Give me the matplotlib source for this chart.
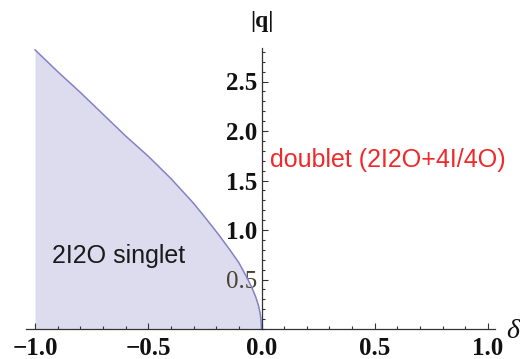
import matplotlib
matplotlib.use('Agg')
import matplotlib.pyplot as plt
from matplotlib.ticker import MultipleLocator, FixedLocator, FixedFormatter

# Boundary curve
delta = [-1.0, -0.9, -0.8, -0.7, -0.6, -0.5, -0.4, -0.3, -0.25, -0.2, -0.18,
         -0.14, -0.1, -0.06, -0.04, -0.025, -0.015, -0.007, -0.003, 0.0]
q = [2.82, 2.60, 2.39, 2.17, 1.95, 1.745, 1.52, 1.27, 1.13, 0.985, 0.925,
     0.80, 0.67, 0.50, 0.405, 0.32, 0.25, 0.17, 0.11, 0.0]

x_ticks = [-1.0, -0.5, 0.0, 0.5, 1.0]
x_labels = ['\u22121.0', '\u22120.5', '0.0', '0.5', '1.0']
y_ticks = [0.5, 1.0, 1.5, 2.0, 2.5]
y_labels = ['0.5', '1.0', '1.5', '2.0', '2.5']

W, H = 520, 359
fig = plt.figure(figsize=(W / 100, H / 100), dpi=100)
ax = fig.add_axes([26 / W, 30 / H, (495 - 26) / W, (329 - 48) / H])
ax.set_xlim(-1 - 9 / 226.5, 1 + 7 / 226.5)
ax.set_ylim(0, 281 / 99)

ax.fill_between(delta, 0, q, color='#dcdcee', lw=0, zorder=1)
ax.plot(delta, q, color='#8282c6', lw=1.1, zorder=2)

for s in ['top', 'right']:
    ax.spines[s].set_visible(False)
ax.spines['left'].set_position(('data', 0))
ax.spines['bottom'].set_position(('data', 0))
for s in ['left', 'bottom']:
    ax.spines[s].set_color('#333333')
    ax.spines[s].set_linewidth(0.9)
    ax.spines[s].set_zorder(3)

ax.xaxis.set_major_locator(FixedLocator(x_ticks))
ax.xaxis.set_major_formatter(FixedFormatter(x_labels))
ax.yaxis.set_major_locator(FixedLocator(y_ticks))
ax.yaxis.set_major_formatter(FixedFormatter(y_labels))
ax.xaxis.set_minor_locator(MultipleLocator(0.1))
ax.yaxis.set_minor_locator(MultipleLocator(0.1))
ax.tick_params(which='both', direction='in', color='#333333', width=0.8)
ax.tick_params(which='major', length=4)
ax.tick_params(which='minor', length=2.3)
ax.tick_params(axis='x', which='major', pad=6)
ax.tick_params(axis='y', which='major', pad=3)
for lab in ax.get_xticklabels() + ax.get_yticklabels():
    lab.set_fontfamily('Liberation Serif')
    lab.set_fontweight('bold')
    lab.set_fontsize(18)
    lab.set_color('#111111')
# the lowest y label is drawn lighter in the reference
ylabs = ax.get_yticklabels()
ylabs[0].set_fontweight('normal')
ylabs[0].set_color('#4a4232')

ax.text(0, 1.0 + 27 / 281, '|q|', transform=ax.get_xaxis_transform(),
        ha='center', va='center', fontsize=17, fontweight='bold',
        family='Liberation Serif', color='#111111')
fig.text(513 / W, 1 - 332 / H, '\u03b4', ha='center', va='center', fontsize=20,
         style='italic', family='Liberation Serif', color='#111111')

ax.text(-0.925, 0.667, '2I2O singlet', fontsize=18, family='Liberation Sans',
        color='#1a1a1a', ha='left', va='baseline')
ax.text(0.0375, 1.636, 'doublet (2I2O+4I/4O)', fontsize=18,
        family='Liberation Sans', color='#ee2a2a', ha='left', va='baseline')

fig.savefig('out.png', dpi=100)
